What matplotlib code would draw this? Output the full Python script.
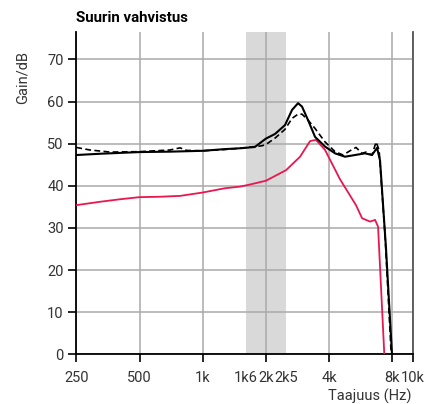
import matplotlib
matplotlib.use("Agg")
import matplotlib.pyplot as plt

# Roboto is the narrowest sans on hand; DejaVu catches anything it lacks
plt.rcParams["font.family"] = ["Roboto", "DejaVu Sans"]

# --- data ---
solid_f = [250, 324, 500, 699, 1000, 1270, 1505, 1770, 1916, 2000, 2210, 2465, 2663,
           2845, 2971, 3173, 3428, 3825, 4267, 4760, 5314, 5930, 6400, 6765, 6990, 7465, 7970]
solid_db = [47.3, 47.6, 48.0, 48.1, 48.3, 48.7, 48.9, 49.2, 50.5, 51.2, 52.3, 54.4, 58.0,
            59.6, 58.8, 55.6, 51.6, 49.3, 47.7, 46.9, 47.3, 47.7, 47.3, 49.0, 46.0, 25.0, 0.0]

dash_f = [250, 290, 362, 500, 699, 780, 838, 1000, 1270, 1505, 1916, 2000, 2210, 2465, 2663,
          2845, 2971, 3173, 3428, 3825, 4267, 4660, 5143, 5370, 5740, 5997, 6400, 6693, 6918,
          7390, 7900]
dash_db = [49.1, 48.5, 48.0, 48.1, 48.5, 49.0, 48.4, 48.3, 48.6, 48.9, 49.5, 49.8, 51.3, 53.4,
           56.0, 57.0, 57.0, 55.6, 53.6, 50.4, 48.1, 47.3, 48.6, 49.1, 47.7, 48.0, 47.3, 50.4,
           48.5, 28.0, 0.0]

red_f = [250, 324, 404, 500, 626, 780, 1000, 1270, 1505, 1680, 2000, 2493, 2908, 3245, 3460,
         3825, 4500, 5370, 5740, 6263, 6620, 6840, 7325]
red_db = [35.4, 36.2, 36.8, 37.3, 37.4, 37.6, 38.4, 39.4, 39.8, 40.3, 41.2, 43.7, 46.9, 50.6,
          50.9, 48.5, 41.6, 35.4, 32.3, 31.5, 31.9, 30.3, 0.0]

xticks = [250, 500, 1000, 1600, 2000, 2500, 4000, 8000, 10000]
xlabels = ["250", "500", "1k", "1k6", "2k", "2k5", "4k", "8k", "10k"]
yticks = [0, 10, 20, 30, 40, 50, 60, 70]
band = (1600, 2500)

fig = plt.figure(figsize=(4.42, 4.04), dpi=100)
ax = fig.add_axes([0.1726, 0.123, 0.9337 - 0.1726, 0.9208 - 0.123])

ax.axvspan(band[0], band[1], color="#d9d9d9", lw=0, zorder=0)

ax.plot(red_f, red_db, color="#e8174f", lw=1.3, zorder=3)
ax.plot(dash_f, dash_db, color="black", lw=1.2, ls=(0, (3.5, 2)), zorder=4)
ax.plot(solid_f, solid_db, color="black", lw=1.5, zorder=5)

ax.set_xscale("log")
ax.set_xlim(250, 10000)
ax.set_ylim(0, 76.5)
ax.set_xticks(xticks)
ax.set_xticklabels(xlabels)
ax.xaxis.set_minor_locator(matplotlib.ticker.NullLocator())
ax.set_yticks(yticks)

ax.grid(True, color="#aaaaaa", lw=1.1, zorder=1)
ax.set_axisbelow(True)
for i, t in enumerate(ax.xaxis.get_major_ticks()):
    if xlabels[i] in ("1k6", "2k5"):
        t.tick1line.set_visible(False)
        t.gridline.set_visible(False)

ax.tick_params(axis="x", length=6, width=1.2, pad=6, labelsize=10.5, colors="black")
ax.tick_params(axis="y", length=6, width=1.2, pad=3, labelsize=10.5, colors="black")
for lab in ax.get_xticklabels() + ax.get_yticklabels():
    lab.set_color("#333333")

ax.spines["top"].set_visible(False)
ax.spines["left"].set_linewidth(1.3)
ax.spines["bottom"].set_linewidth(1.3)
ax.spines["right"].set_color("#555555")
ax.spines["right"].set_linewidth(1.3)

fig.text(76 / 442, 1 - 18 / 404, "Suurin vahvistus", fontsize=10.8, fontweight="bold",
         ha="left", va="center")
fig.text(23 / 442, 1 - 78 / 404, "Gain/dB", rotation=90, fontsize=10.5, color="#333333",
         ha="center", va="center")
fig.text(412 / 442, 1 - 396 / 404, "Taajuus (Hz)", fontsize=10.5, color="#333333",
         ha="right", va="center")

fig.savefig("out.png", dpi=100)
